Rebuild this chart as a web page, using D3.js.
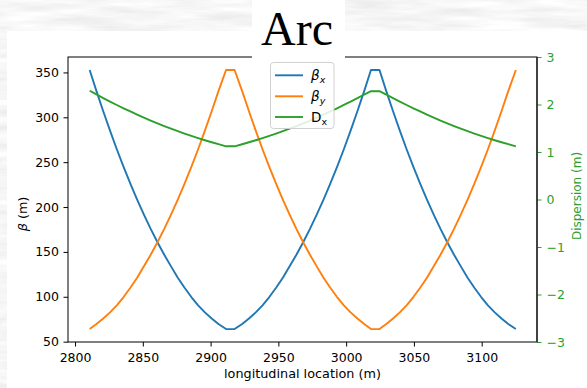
<!DOCTYPE html>
<html>
<head>
<meta charset="utf-8">
<script src="https://cdn.jsdelivr.net/npm/d3@7"></script>
<style>
  html, body { margin: 0; padding: 0; background: #ffffff; }
  svg { display: block; }
  text { font-family: "DejaVu Sans", sans-serif; }
</style>
</head>
<body>
<script>
// ---------------- data ----------------
const sPos = [
  2810.8, 2815.8, 2820.8, 2825.8, 2830.8, 2835.8, 2840.8, 2845.8, 2850.8, 2855.8, 2860.8,
  2865.8, 2870.8, 2875.8, 2880.8, 2885.8, 2890.8, 2895.8, 2900.8, 2905.8, 2911.4,
  2917.7, 2923.3, 2928.3, 2933.3, 2938.3, 2943.3, 2948.3, 2953.3, 2958.3, 2963.3, 2968.3,
  2973.3, 2978.3, 2983.3, 2988.3, 2993.3, 2998.3, 3003.3, 3008.3, 3013.3, 3018.3,
  3024.6, 3029.6, 3034.6, 3039.6, 3044.6, 3049.6, 3054.6, 3059.6, 3064.6, 3069.6, 3074.6,
  3079.6, 3084.6, 3089.6, 3094.6, 3099.6, 3104.6, 3109.6, 3114.6, 3119.6, 3125.2];
const betaX = [
  352.7, 329.2, 306.7, 285.1, 264.4, 244.8, 226.0, 208.3, 191.6, 175.7, 160.8,
  146.9, 133.9, 121.3, 110.0, 99.7, 90.5, 82.6, 75.8, 69.6, 64.0,
  64.0, 69.6, 75.8, 82.6, 90.5, 99.7, 110.0, 121.3, 133.9, 146.9, 160.8,
  175.7, 191.6, 208.3, 226.0, 244.8, 264.4, 285.1, 306.7, 329.2, 352.7,
  352.7, 329.2, 306.7, 285.1, 264.4, 244.8, 226.0, 208.3, 191.6, 175.7, 160.8,
  146.9, 133.9, 121.3, 110.0, 99.7, 90.5, 82.6, 75.8, 69.6, 64.0];
const betaY = [
  64.0, 69.6, 75.8, 82.6, 90.5, 99.7, 110.0, 121.3, 133.9, 146.9, 160.8,
  175.7, 191.6, 208.3, 226.0, 244.8, 264.4, 285.1, 306.7, 329.2, 352.7,
  352.7, 329.2, 306.7, 285.1, 264.4, 244.8, 226.0, 208.3, 191.6, 175.7, 160.8,
  146.9, 133.9, 121.3, 110.0, 99.7, 90.5, 82.6, 75.8, 69.6, 64.0,
  64.0, 69.6, 75.8, 82.6, 90.5, 99.7, 110.0, 121.3, 133.9, 146.9, 160.8,
  175.7, 191.6, 208.3, 226.0, 244.8, 264.4, 285.1, 306.7, 329.2, 352.7];
const dispX = [
  2.29, 2.212, 2.136, 2.062, 1.990, 1.920, 1.853, 1.787, 1.724, 1.662, 1.603,
  1.546, 1.491, 1.438, 1.387, 1.338, 1.292, 1.247, 1.205, 1.164, 1.12,
  1.12, 1.164, 1.205, 1.247, 1.292, 1.338, 1.387, 1.438, 1.491, 1.546, 1.603,
  1.662, 1.724, 1.787, 1.853, 1.920, 1.990, 2.062, 2.136, 2.210, 2.28,
  2.28, 2.210, 2.136, 2.062, 1.990, 1.920, 1.853, 1.787, 1.724, 1.662, 1.603,
  1.546, 1.491, 1.438, 1.387, 1.338, 1.292, 1.247, 1.205, 1.164, 1.12];
const xTicks = [2800, 2850, 2900, 2950, 3000, 3050, 3100];
const yLeftTicks = [50, 100, 150, 200, 250, 300, 350];
const yRightTicks = [-3, -2, -1, 0, 1, 2, 3];
const titleText = "Arc";

// ---------------- layout ----------------
const W = 587, H = 388;
const L = 68, R = 537, T = 57, B = 342;
const C_BLUE = "#1f77b4", C_ORANGE = "#ff7f0e", C_GREEN = "#2ca02c";

const svg = d3.select("body").append("svg").attr("width", W).attr("height", H);

// textured paper background
const defs = svg.append("defs");
const f = defs.append("filter").attr("id", "tex").attr("x", 0).attr("y", 0).attr("width", "100%").attr("height", "100%");
f.append("feTurbulence").attr("type", "fractalNoise").attr("baseFrequency", "0.015 0.12")
  .attr("numOctaves", 4).attr("seed", 7).attr("result", "n");
f.append("feColorMatrix").attr("type", "matrix")
  .attr("values", "0.3 0 0 0 0.77  0.3 0 0 0 0.77  0.3 0 0 0 0.77  0 0 0 0 1");
svg.append("rect").attr("width", W).attr("height", H).attr("filter", "url(#tex)");

// white page
svg.append("rect").attr("x", 7).attr("y", 31).attr("width", W - 7).attr("height", H - 31).attr("fill", "#fff");

// scales
const x = d3.scaleLinear().domain([2794.8, 3140.8]).range([L, R]);
const yL = d3.scaleLinear().domain([49.6, 367.2]).range([B, T]);
const yR = d3.scaleLinear().domain([-3, 3]).range([B, T]);

const pts = sPos.map((s, i) => ({ s, bx: betaX[i], by: betaY[i], dx: dispX[i] }));

const plot = svg.append("g");
plot.append("path").datum(pts)
  .attr("d", d3.line().x(d => x(d.s)).y(d => yL(d.bx)))
  .attr("fill", "none").attr("stroke", C_BLUE).attr("stroke-width", 1.9).attr("stroke-linejoin", "round");
plot.append("path").datum(pts)
  .attr("d", d3.line().x(d => x(d.s)).y(d => yL(d.by)))
  .attr("fill", "none").attr("stroke", C_ORANGE).attr("stroke-width", 1.9).attr("stroke-linejoin", "round");

// legend (drawn before the green line, which sits on the twin axes above it)
const lg = svg.append("g");
lg.append("rect").attr("x", 270.5).attr("y", 62.5).attr("width", 63.5).attr("height", 66)
  .attr("rx", 3).attr("fill", "#fff").attr("fill-opacity", 0.85).attr("stroke", "#d0d0d0").attr("stroke-width", 1);
const legRows = [
  { c: C_BLUE, main: "β", sub: "x", italic: true, y: 75.3 },
  { c: C_ORANGE, main: "β", sub: "y", italic: true, y: 96.3 },
  { c: C_GREEN, main: "D", sub: "x", italic: false, y: 117 }
];
legRows.forEach(r => {
  lg.append("line").attr("x1", 275).attr("x2", 303).attr("y1", r.y).attr("y2", r.y)
    .attr("stroke", r.c).attr("stroke-width", 1.9);
  const t = lg.append("text").attr("x", 311).attr("y", r.y + 5).attr("font-size", 13.5).attr("fill", "#000");
  t.append("tspan").attr("font-style", r.italic ? "italic" : "normal").text(r.main);
  t.append("tspan").attr("font-style", r.italic ? "italic" : "normal").attr("font-size", 9.5).attr("dy", 2.5).text(r.sub);
});

plot.append("path").datum(pts)
  .attr("d", d3.line().x(d => x(d.s)).y(d => yR(d.dx)))
  .attr("fill", "none").attr("stroke", C_GREEN).attr("stroke-width", 1.9).attr("stroke-linejoin", "round");

// axes
const fs = 12.5;
const gx = svg.append("g").attr("transform", `translate(0,${B})`)
  .call(d3.axisBottom(x).tickValues(xTicks).tickSize(4.5).tickPadding(4.5).tickFormat(d3.format("d")));
gx.select(".domain").remove();
gx.selectAll("text").attr("font-size", fs).attr("font-family", "DejaVu Sans").attr("fill", "#000").attr("dy", "0.9em");
gx.selectAll("line").attr("stroke", "#000");

const gyl = svg.append("g").attr("transform", `translate(${L},0)`)
  .call(d3.axisLeft(yL).tickValues(yLeftTicks).tickSize(4.5).tickPadding(4.5).tickFormat(d3.format("d")));
gyl.select(".domain").remove();
gyl.selectAll("text").attr("font-size", fs).attr("font-family", "DejaVu Sans").attr("fill", "#000");
gyl.selectAll("line").attr("stroke", "#000");

const gyr = svg.append("g").attr("transform", `translate(${R},0)`)
  .call(d3.axisRight(yR).tickValues(yRightTicks).tickSize(4.5).tickPadding(5).tickFormat(d3.format("d")));
gyr.select(".domain").remove();
gyr.selectAll("text").attr("font-size", fs).attr("font-family", "DejaVu Sans").attr("fill", C_GREEN);
gyr.selectAll("line").attr("stroke", C_GREEN);

// frame
svg.append("rect").attr("x", L).attr("y", T).attr("width", R - L).attr("height", B - T)
  .attr("fill", "none").attr("stroke", "#000").attr("stroke-width", 1);
svg.append("line").attr("x1", R).attr("x2", R).attr("y1", T).attr("y2", B).attr("stroke", "#333").attr("stroke-width", 1.6);

// axis labels
svg.append("text").attr("x", (L + R) / 2).attr("y", 378).attr("text-anchor", "middle")
  .attr("font-size", 12.8).text("longitudinal location (m)");
const yl = svg.append("text").attr("transform", "translate(27,214) rotate(-90)").attr("text-anchor", "middle").attr("font-size", 12.8);
yl.append("tspan").attr("font-style", "italic").text("β");
yl.append("tspan").text(" (m)");
svg.append("text").attr("transform", "translate(581,196) rotate(-90)").attr("text-anchor", "middle")
  .attr("font-size", 12).attr("fill", C_GREEN).text("Dispersion (m)");

// title with its white box
svg.append("rect").attr("x", 252).attr("y", 0).attr("width", 93).attr("height", 58.5).attr("fill", "#fff");
svg.append("text").attr("x", 297).attr("y", 45).attr("text-anchor", "middle")
  .style("font-family", "'Liberation Serif', 'Times New Roman', serif")
  .attr("font-size", 48).text(titleText);
</script>
</body>
</html>
